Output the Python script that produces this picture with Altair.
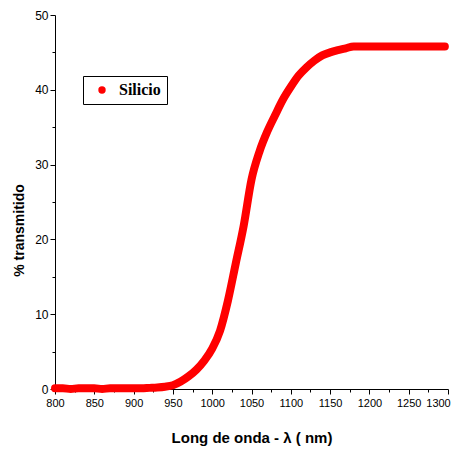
import altair as alt
import pandas as pd

wavelength = [800, 810, 820, 830, 840, 850, 860, 870, 880, 890, 900, 910, 920, 930, 940,
              950, 960, 970, 980, 990, 1000, 1010, 1020, 1030, 1040, 1050, 1060, 1070,
              1080, 1090, 1100, 1110, 1120, 1130, 1140, 1150, 1160, 1170, 1180, 1190,
              1200, 1210, 1220, 1230, 1240, 1250, 1260, 1270, 1280, 1290, 1296]
transmission = [0.1, 0.1, 0.0, 0.1, 0.1, 0.1, 0.0, 0.1, 0.1, 0.1, 0.1, 0.1, 0.15, 0.2, 0.3,
                0.5, 1.0, 1.7, 2.6, 3.8, 5.4, 7.8, 11.8, 16.8, 21.8, 28.0, 31.7, 34.4,
                36.6, 38.7, 40.4, 41.9, 43.0, 43.9, 44.6, 45.0, 45.3, 45.55, 45.8, 45.8,
                45.8, 45.8, 45.8, 45.8, 45.8, 45.8, 45.8, 45.8, 45.8, 45.8, 45.8]
series = ["Silicio"] * len(wavelength)
x_ticks = list(range(800, 1301, 25))
y_ticks = list(range(0, 51, 5))

df = pd.DataFrame({"wl": wavelength, "t": transmission, "serie": series})

label_font = "Liberation Sans Narrow, Arial Narrow, Liberation Sans, Arial"

x_scale = alt.Scale(domain=[800, 1300], nice=False, zero=False)
y_scale = alt.Scale(domain=[0, 50], nice=False)

chart = alt.Chart(df).mark_line(strokeWidth=8, strokeCap="round", strokeJoin="round",
                                interpolate="monotone").encode(
    x=alt.X("wl:Q", scale=x_scale,
            axis=alt.Axis(values=x_ticks, format="d", title="Long de onda - λ ( nm)",
                          labelExpr="datum.value % 50 === 0 ? datum.label : ''",
                          tickSize={"expr": "datum.value % 50 === 0 ? 5 : 3"},
                          labelOffset={"expr": "datum.value === 1300 ? -10 : 0"},
                          orient="bottom", grid=False, labelFontSize=11,
                          labelFont=label_font, labelColor="black", titleFont=label_font,
                          titleFontSize=15, titleFontWeight="bold", titleColor="black",
                          titlePadding=22, domainColor="black", tickColor="black",
                          labelPadding=3, labelFlush=False, labelOverlap=False)),
    y=alt.Y("t:Q", scale=y_scale,
            axis=alt.Axis(values=y_ticks, format="d", title="% transmitido",
                          labelExpr="datum.value % 10 === 0 ? datum.label : ''",
                          tickSize={"expr": "datum.value % 10 === 0 ? 5 : 3"},
                          orient="left", grid=False, labelFontSize=12,
                          labelFont=label_font, labelColor="black", titleFont=label_font,
                          titleFontSize=14, titleFontWeight="bold", titleColor="black",
                          titleX=-36, titleY=215, titleAngle=270, titleAlign="center",
                          titleBaseline="middle",
                          domainColor="black", tickColor="black",
                          labelPadding=2, labelOverlap=False)),
    color=alt.Color("serie:N", scale=alt.Scale(range=["#ff0000"]),
                    legend=alt.Legend(title=None, orient="none", legendX=28, legendY=61,
                                      symbolType="circle", symbolFillColor="#ff0000",
                                      symbolStrokeWidth=0, symbolSize=55,
                                      labelFont="Liberation Serif, Times New Roman, serif",
                                      labelFontSize=16, labelFontWeight="bold",
                                      labelColor="black", strokeColor="black",
                                      padding=6, symbolOffset=5, labelOffset=9))
).properties(
    width=393, height=374,
    autosize=alt.AutoSizeParams(type="none"),
    padding={"left": 47, "top": 7, "right": 3, "bottom": 58},
).configure_view(stroke=None)

chart.save("out.html", embed_options={"renderer": "svg", "actions": False})
